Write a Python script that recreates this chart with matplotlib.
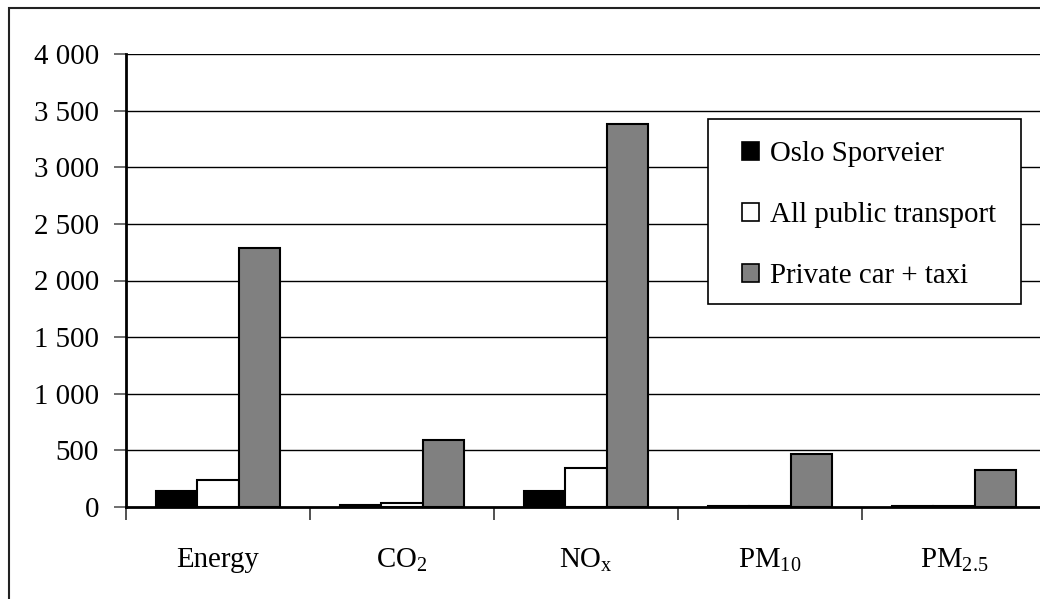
import matplotlib
matplotlib.use("Agg")
import matplotlib.pyplot as plt
import numpy as np
from matplotlib.patches import Rectangle

plt.rcParams['font.family'] = ['Liberation Serif', 'DejaVu Serif']
plt.rcParams['mathtext.fontset'] = 'custom'
plt.rcParams['mathtext.rm'] = 'Liberation Serif'
plt.rcParams['mathtext.it'] = 'Liberation Serif'

categories = ['Energy', r'$\mathrm{CO_2}$', r'$\mathrm{NO_x}$', r'$\mathrm{PM_{10}}$', r'$\mathrm{PM_{2.5}}$']
series_names = ['Oslo Sporveier', 'All public transport', 'Private car + taxi']
oslo_sporveier = [140, 20, 140, 10, 10]
all_public = [240, 38, 340, 10, 10]
private_car = [2290, 590, 3380, 470, 330]
y_ticks = [0, 500, 1000, 1500, 2000, 2500, 3000, 3500, 4000]
y_tick_labels = ['0', '500', '1 000', '1 500', '2 000', '2 500', '3 000', '3 500', '4 000']

W, H = 1040, 599
FS = 20.8
fig = plt.figure(figsize=(W / 100, H / 100), dpi=100)

# outer chart frame
fig.patches.append(Rectangle((9 / W, -0.05), 1.1, 1 - 8 / H + 0.05, transform=fig.transFigure,
                             fill=False, edgecolor='#222222', linewidth=1.5))

ax = fig.add_axes([126 / W, 1 - 507 / H, 920 / W, (507 - 54) / H])

x = np.arange(len(categories))
bw = 0.224
colors = ['black', 'white', '#808080']
data = [oslo_sporveier, all_public, private_car]
for i, (vals, c, name) in enumerate(zip(data, colors, series_names)):
    ax.bar(x + (i - 1) * bw, vals, width=bw, color=c, edgecolor='black', linewidth=1.5,
           label=name, zorder=3)

ax.set_xlim(-0.5, len(categories) - 0.5)
ax.set_ylim(0, 4000)
ax.set_yticks(y_ticks)
ax.set_yticklabels(y_tick_labels, fontsize=FS)
for y in y_ticks[1:]:
    ax.axhline(y, color='black', linewidth=1.0, zorder=1)

ax.set_xticks(x)
ax.set_xticklabels(categories, fontsize=FS)
ax.tick_params(axis='x', length=0, pad=29)
ax.set_xticks(np.arange(len(categories)) - 0.5, minor=True)
ax.tick_params(axis='x', which='minor', length=9, width=1.2, color='#333333', direction='out')
ax.tick_params(axis='y', length=9, width=1.2, color='#555555', direction='out', pad=10.5)

for s in ['top', 'right']:
    ax.spines[s].set_visible(False)
ax.spines['left'].set_linewidth(2)
ax.spines['bottom'].set_linewidth(2)

# legend box drawn separately so its padding can differ per side
fig.patches.append(Rectangle((708 / W, 1 - 304 / H), (1021 - 708) / W, (304 - 119) / H,
                             transform=fig.transFigure, facecolor='white',
                             edgecolor='black', linewidth=1.2, zorder=5))
leg = fig.legend(loc='upper left', bbox_to_anchor=(742 / W, 1 - 141 / H), fontsize=FS,
                 frameon=False, handlelength=0.58, handleheight=0.58, handletextpad=0.4,
                 labelspacing=1.22, borderpad=0, borderaxespad=0)
leg.set_zorder(6)
for h in leg.legend_handles:
    h.set_linewidth(1.2)

fig.savefig('out.png', dpi=100)
